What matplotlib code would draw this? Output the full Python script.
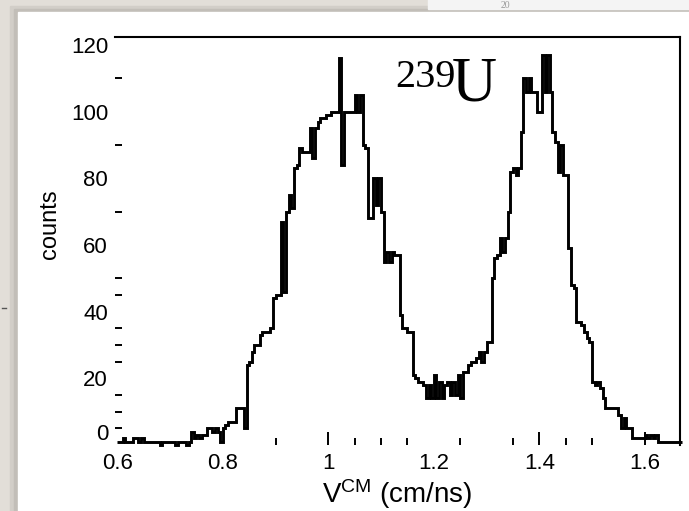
import numpy as np
import matplotlib
matplotlib.use("Agg")
import matplotlib.pyplot as plt
from matplotlib.patches import Rectangle
from matplotlib.lines import Line2D

# histogram of V_CM, 0.005 cm/ns bins starting at 0.6
bin_start = 0.6
bin_width = 0.005
counts = [
    # 0.600 - 0.735
    1, 1, 2, 1, 1, 1, 2, 2, 1, 2, 1, 1, 1, 1, 1, 1, 0, 1, 1, 1, 1, 1, 0, 1, 1, 1, 0, 1,
    # 0.740 - 0.835
    4, 2, 3, 2, 3, 3, 5, 5, 4, 5, 4, 1, 5, 6, 7, 7, 7, 11, 11, 11,
    # 0.840 - 0.935
    5, 24, 25, 28, 30, 30, 33, 34, 34, 34, 35, 44, 45, 45, 67, 46, 70, 75, 71, 83,
    # 0.940 - 1.035
    84, 89, 88, 88, 88, 95, 86, 95, 97, 98, 98, 99, 99, 100, 100, 100, 116, 84, 100, 100,
    # 1.040 - 1.135
    100, 100, 105, 100, 105, 90, 89, 68, 68, 80, 72, 80, 70, 55, 58, 55, 58, 57, 57, 39,
    # 1.140 - 1.235
    35, 35, 34, 34, 21, 20, 19, 19, 18, 14, 18, 14, 21, 14, 19, 14, 18, 19, 15, 19,
    # 1.240 - 1.335
    15, 21, 14, 22, 22, 24, 25, 25, 26, 28, 25, 28, 31, 31, 50, 56, 57, 62, 58, 62,
    # 1.340 - 1.435
    70, 82, 83, 81, 83, 94, 110, 106, 110, 106, 106, 100, 100, 117, 106, 117, 106, 94, 91, 82,
    # 1.440 - 1.535
    90, 81, 81, 59, 48, 47, 37, 37, 36, 34, 32, 31, 19, 18, 19, 17, 14, 11, 11, 11,
    # 1.540 - 1.635
    11, 11, 9, 5, 8, 5, 5, 2, 2, 2, 2, 2, 3, 2, 3, 2, 3, 1, 1, 1,
    # 1.640 - 1.665
    1, 1, 1, 1, 1, 1,
]
edges = bin_start + bin_width * np.arange(len(counts) + 1)

x_labels = [0.6, 0.8, 1.0, 1.2, 1.4, 1.6]
x_long_ticks = [1.0, 1.4, 1.6]
x_minor = [0.9, 1.05, 1.1, 1.15, 1.25, 1.35, 1.45, 1.5]
y_labels = [0, 20, 40, 60, 80, 100, 120]
y_minor = [5, 10, 15, 25, 30, 35, 45, 50, 70, 90, 110]

plt.rcParams['font.family'] = ['Liberation Sans', 'DejaVu Sans']
plt.rcParams['mathtext.default'] = 'regular'

W, H = 689, 511
fig = plt.figure(figsize=(W / 100, H / 100), dpi=100)
fig.patch.set_facecolor('#e2ded8')

# page background: shadow + white sheet, plus a sliver of another sheet at the top
fig.add_artist(Rectangle((10 / W, 0), 1, (H - 6) / H, transform=fig.transFigure,
                         color='#d2cec8', zorder=0))
fig.add_artist(Rectangle((14 / W, 0), 1, (H - 9) / H, transform=fig.transFigure,
                         color='#c2beb8', zorder=0))
fig.add_artist(Rectangle((18 / W, 0), 1, (H - 12) / H, transform=fig.transFigure,
                         color='white', zorder=0))
fig.add_artist(Rectangle((428 / W, (H - 9) / H), 1, 1, transform=fig.transFigure,
                         color='#f4f4f4', zorder=0))
fig.add_artist(Line2D([2 / W, 6 / W], [(H - 308) / H] * 2, transform=fig.transFigure,
                      color='#555555', lw=1))
fig.text(505 / W, (H - 5) / H, '20', fontsize=7, color='#999999',
         va='center', ha='center', family='Liberation Serif')

ax = fig.add_axes([115 / W, (H - 445) / H, 565 / W, 408 / H])
ax.set_facecolor('white')

ax.stairs(counts, edges, baseline=None, color='black', lw=2.1, clip_on=False)

ax.set_xlim(0.5956, 1.6668)
ax.set_ylim(0, 122.4)

for s in ['left', 'bottom']:
    ax.spines[s].set_visible(False)
for s in ['top', 'right']:
    ax.spines[s].set_linewidth(1.5)

ax.set_xticks(x_labels)
ax.set_xticklabels(['0.6', '0.8', '1', '1.2', '1.4', '1.6'])
ax.set_xticks(x_minor, minor=True)
ax.set_yticks(y_labels)
ax.set_yticks(y_minor, minor=True)

ax.tick_params(axis='x', which='major', direction='in', length=9.5, width=1.4,
               pad=6, labelsize=16)
ax.tick_params(axis='x', which='minor', direction='in', length=5, width=1.4)
ax.tick_params(axis='y', which='major', length=0, pad=5, labelsize=16)
ax.tick_params(axis='y', which='minor', direction='in', length=5, width=1.4)
for t in ax.xaxis.get_major_ticks():
    if round(t.get_loc(), 2) not in x_long_ticks:
        t.tick1line.set_visible(False)
# lift the "0" a little so it clears "0.6"
ax.get_yticklabels()[0].set_verticalalignment('bottom')

ax.set_xlabel(r'V$^{CM}$ (cm/ns)', fontsize=20, labelpad=2)
ax.set_ylabel('counts', fontsize=17)
ax.yaxis.set_label_coords(-0.095, 0.54)

ax.text(1.127, 115.8, '239', family='Liberation Serif', fontsize=29, va='top', ha='left')
ax.text(1.235, 116.5, 'U', family='Liberation Serif', fontsize=45, va='top', ha='left')

fig.savefig('out.png', dpi=100, facecolor=fig.get_facecolor())
